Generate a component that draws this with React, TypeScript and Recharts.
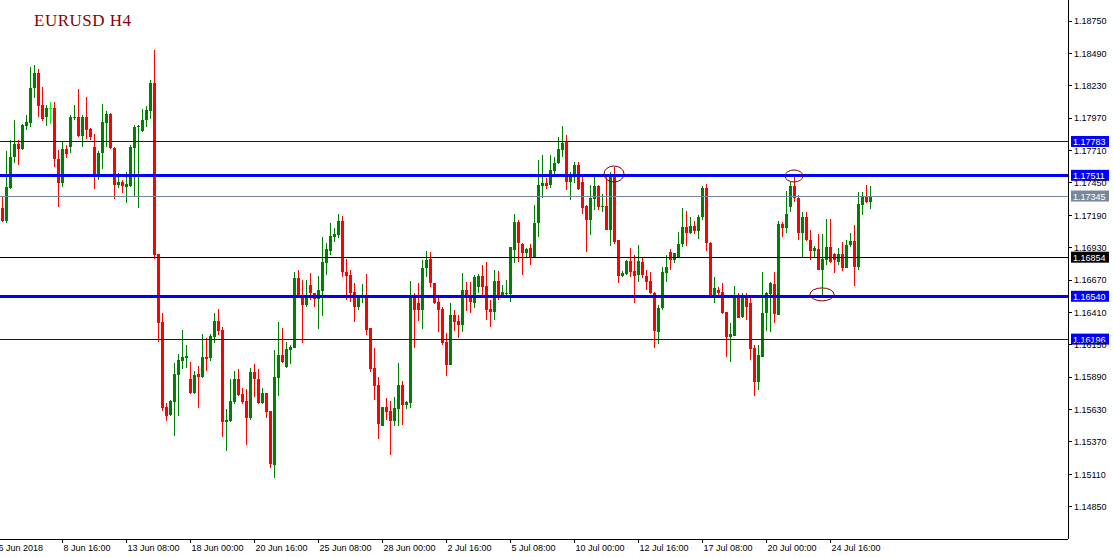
import React from "react";
import { BarChart, Bar, XAxis, YAxis, ReferenceLine, ReferenceDot } from "recharts";

// EURUSD H4 bars, 6 Jun 2018 04:00 onwards
const OPEN = [
  1.17249, 1.17144, 1.17409, 1.17658, 1.17763, 1.17723, 1.17907, 1.17931, 1.18212, 1.18333,
  1.18076, 1.17979, 1.18052, 1.18052, 1.17642, 1.1745, 1.17723, 1.17739, 1.17971, 1.17979,
  1.17827, 1.17979, 1.17883, 1.17739, 1.17514, 1.1769, 1.17931, 1.18004, 1.17731, 1.17433,
  1.17458, 1.17417, 1.17425, 1.17731, 1.17903, 1.17867, 1.17955, 1.18028, 1.18253, 1.16879,
  1.16333, 1.15651, 1.15587, 1.15691, 1.15908, 1.1602, 1.16044, 1.15876, 1.15763, 1.15916,
  1.15892, 1.16052, 1.16044, 1.16213, 1.16341, 1.16269, 1.1553, 1.15538, 1.15691, 1.15876,
  1.15755, 1.15699, 1.15563, 1.15932, 1.15876, 1.15683, 1.15763, 1.15619, 1.15185, 1.15884,
  1.16068, 1.15972, 1.16109, 1.16125, 1.16687, 1.1655, 1.1647, 1.1663, 1.16566, 1.16518,
  1.16582, 1.16807, 1.16903, 1.17016, 1.17032, 1.17144, 1.16735, 1.16711, 1.16574, 1.16454,
  1.16526, 1.16542, 1.16285, 1.15964, 1.15828, 1.15498, 1.15651, 1.15619, 1.15538, 1.15635,
  1.15828, 1.15667, 1.15683, 1.16534, 1.16486, 1.16426, 1.16767, 1.16839, 1.16646, 1.16494,
  1.16438, 1.16173, 1.15988, 1.1639, 1.16341, 1.16309, 1.1659, 1.16526, 1.16486, 1.16614,
  1.16703, 1.16622, 1.16438, 1.16414, 1.16663, 1.1655, 1.16558, 1.16558, 1.16911, 1.17136,
  1.1696, 1.16887, 1.16927, 1.16855, 1.17128, 1.17425, 1.1745, 1.17433, 1.17546, 1.1761,
  1.17715, 1.17779, 1.17458, 1.17498, 1.17594, 1.17458, 1.17265, 1.17152, 1.17321, 1.17425,
  1.17261, 1.17265, 1.17072, 1.17522, 1.16992, 1.16703, 1.16719, 1.16823, 1.16743, 1.16711,
  1.16815, 1.16703, 1.16663, 1.16566, 1.16253, 1.16446, 1.16727, 1.16895, 1.16831, 1.16855,
  1.1696, 1.17096, 1.17048, 1.17104, 1.17064, 1.17176, 1.17409, 1.16968, 1.16534, 1.1659,
  1.16574, 1.16414, 1.16213, 1.16221, 1.16526, 1.16373, 1.16534, 1.16486, 1.16125, 1.15852,
  1.16052, 1.16406, 1.16558, 1.16638, 1.1639, 1.1712, 1.17088, 1.17257, 1.17425, 1.17329,
  1.17048, 1.17176, 1.16992, 1.16903, 1.16919, 1.16751, 1.16831, 1.16936, 1.16879, 1.16815,
  1.16879, 1.16767, 1.16952, 1.16984, 1.16775, 1.17273, 1.17345, 1.17297,
];
const HIGH = [
  1.17345, 1.17706, 1.17795, 1.17955, 1.17795, 1.17923, 1.17996, 1.18381, 1.18397, 1.18365,
  1.1822, 1.18076, 1.181, 1.181, 1.17715, 1.17779, 1.17755, 1.17996, 1.18076, 1.18204,
  1.17996, 1.1814, 1.17891, 1.17843, 1.17706, 1.18084, 1.18028, 1.18012, 1.17735, 1.1753,
  1.17474, 1.17538, 1.17755, 1.17915, 1.17915, 1.18044, 1.18068, 1.18277, 1.18518, 1.16883,
  1.16406, 1.15683, 1.15707, 1.16004, 1.16076, 1.16269, 1.16149, 1.16012, 1.1594, 1.1598,
  1.16237, 1.16205, 1.16237, 1.16406, 1.16438, 1.16293, 1.15635, 1.15876, 1.1594, 1.15956,
  1.15803, 1.15795, 1.15964, 1.15996, 1.15956, 1.15803, 1.15766, 1.15622, 1.16109, 1.16333,
  1.16285, 1.16173, 1.16149, 1.16735, 1.16751, 1.16671, 1.16671, 1.16727, 1.1657, 1.16703,
  1.17016, 1.16968, 1.17128, 1.17088, 1.17201, 1.17185, 1.16839, 1.16751, 1.16646, 1.1655,
  1.16638, 1.16719, 1.16288, 1.16125, 1.15892, 1.15654, 1.15723, 1.15699, 1.15731, 1.16004,
  1.1586, 1.15699, 1.16663, 1.16566, 1.16646, 1.16831, 1.16903, 1.16895, 1.1665, 1.16534,
  1.16454, 1.16245, 1.16486, 1.16426, 1.16393, 1.16727, 1.16655, 1.16655, 1.16711, 1.16719,
  1.16791, 1.16815, 1.1651, 1.16751, 1.16743, 1.1663, 1.16671, 1.16939, 1.17201, 1.17152,
  1.1697, 1.16927, 1.1696, 1.17273, 1.17634, 1.17674, 1.1749, 1.17674, 1.17658, 1.17819,
  1.17907, 1.17835, 1.17538, 1.17618, 1.17618, 1.17514, 1.17273, 1.17433, 1.17498, 1.17433,
  1.17361, 1.17498, 1.17538, 1.17578, 1.16995, 1.16743, 1.16831, 1.16927, 1.16871, 1.16952,
  1.16855, 1.16751, 1.16735, 1.16574, 1.1647, 1.16775, 1.16871, 1.16919, 1.1689, 1.17056,
  1.17249, 1.17225, 1.17176, 1.17144, 1.17193, 1.17425, 1.17441, 1.16976, 1.16695, 1.16614,
  1.16646, 1.16417, 1.16325, 1.16622, 1.16566, 1.16566, 1.16566, 1.16526, 1.16149, 1.16149,
  1.16735, 1.16574, 1.16655, 1.16735, 1.17144, 1.17136, 1.17385, 1.17458, 1.17514, 1.17353,
  1.17217, 1.17217, 1.17072, 1.16944, 1.1704, 1.1704, 1.1716, 1.1716, 1.16887, 1.16927,
  1.16976, 1.16992, 1.17048, 1.17112, 1.17377, 1.17377, 1.17433, 1.17425,
];
const LOW = [
  1.17136, 1.17128, 1.17401, 1.1761, 1.17594, 1.17715, 1.17875, 1.17899, 1.18132, 1.17979,
  1.17947, 1.17907, 1.17923, 1.17578, 1.17257, 1.17417, 1.1765, 1.1769, 1.17955, 1.1782,
  1.17739, 1.17803, 1.17795, 1.17401, 1.17474, 1.17562, 1.17739, 1.17723, 1.17321, 1.17409,
  1.17369, 1.17289, 1.17417, 1.17337, 1.17249, 1.1786, 1.17899, 1.17963, 1.16839, 1.16173,
  1.15619, 1.15538, 1.1558, 1.15418, 1.15579, 1.15956, 1.15964, 1.15756, 1.15755, 1.15643,
  1.15884, 1.1594, 1.1602, 1.16165, 1.16229, 1.1541, 1.15298, 1.15529, 1.15675, 1.1574,
  1.15675, 1.15346, 1.15546, 1.15731, 1.15678, 1.15678, 1.15563, 1.15161, 1.15081, 1.15739,
  1.16008, 1.15968, 1.15996, 1.16122, 1.1653, 1.16165, 1.16454, 1.1651, 1.16454, 1.16277,
  1.16382, 1.16711, 1.16871, 1.16976, 1.17008, 1.16695, 1.1651, 1.16494, 1.16333, 1.16426,
  1.16486, 1.16229, 1.15932, 1.15707, 1.15394, 1.15495, 1.15546, 1.15265, 1.15498, 1.15498,
  1.15506, 1.15635, 1.15643, 1.16125, 1.16341, 1.16277, 1.16695, 1.16614, 1.16478, 1.16253,
  1.16149, 1.159, 1.15985, 1.16261, 1.16205, 1.16253, 1.16419, 1.16406, 1.16446, 1.16566,
  1.16534, 1.16349, 1.16293, 1.16349, 1.1651, 1.16526, 1.16534, 1.16494, 1.16807, 1.16815,
  1.16711, 1.16855, 1.16791, 1.16852, 1.17016, 1.17329, 1.17401, 1.17409, 1.17498, 1.17602,
  1.17658, 1.17393, 1.17313, 1.1745, 1.17393, 1.17201, 1.16895, 1.17032, 1.17233, 1.17233,
  1.17217, 1.17069, 1.16944, 1.1696, 1.16646, 1.16695, 1.16711, 1.16695, 1.16486, 1.16655,
  1.16687, 1.1659, 1.16558, 1.16125, 1.16157, 1.16426, 1.16655, 1.16751, 1.16807, 1.16852,
  1.16936, 1.16944, 1.1704, 1.1704, 1.17, 1.17152, 1.16903, 1.1653, 1.16486, 1.16526,
  1.16398, 1.16052, 1.16012, 1.16218, 1.16362, 1.16365, 1.16349, 1.16028, 1.15739, 1.15787,
  1.16049, 1.16261, 1.16253, 1.16325, 1.16387, 1.17016, 1.17048, 1.17217, 1.17297, 1.16992,
  1.16855, 1.16984, 1.16831, 1.16847, 1.16748, 1.1655, 1.16791, 1.16807, 1.16727, 1.16791,
  1.16743, 1.16764, 1.16936, 1.16622, 1.16751, 1.17193, 1.17289, 1.17241,
];
const CLOSE = [
  1.17144, 1.17417, 1.17658, 1.17763, 1.17723, 1.17915, 1.17939, 1.18212, 1.18333, 1.18068,
  1.17963, 1.18052, 1.18052, 1.17642, 1.1745, 1.17723, 1.17682, 1.17979, 1.17979, 1.17827,
  1.17979, 1.17875, 1.17819, 1.17514, 1.1769, 1.17939, 1.18004, 1.17731, 1.17433, 1.17458,
  1.17425, 1.17441, 1.17739, 1.17899, 1.17907, 1.17955, 1.18036, 1.18253, 1.16871, 1.16325,
  1.15643, 1.15579, 1.15699, 1.15916, 1.16028, 1.16052, 1.1606, 1.15763, 1.15908, 1.15892,
  1.16052, 1.16036, 1.16221, 1.16341, 1.16261, 1.1553, 1.15546, 1.15699, 1.15876, 1.15747,
  1.15691, 1.15563, 1.15932, 1.15876, 1.15683, 1.15763, 1.15611, 1.15193, 1.15892, 1.16068,
  1.16012, 1.16117, 1.16133, 1.16687, 1.16534, 1.1647, 1.16534, 1.16566, 1.16518, 1.1659,
  1.16815, 1.16919, 1.17024, 1.1704, 1.17144, 1.16735, 1.16703, 1.16566, 1.16454, 1.16534,
  1.16542, 1.16269, 1.15956, 1.1582, 1.15514, 1.15651, 1.15611, 1.15538, 1.15643, 1.15828,
  1.15667, 1.15691, 1.16534, 1.16426, 1.16426, 1.16767, 1.16831, 1.16646, 1.16486, 1.16426,
  1.16165, 1.15988, 1.1639, 1.16333, 1.16309, 1.1659, 1.16526, 1.16494, 1.16695, 1.16703,
  1.16614, 1.16426, 1.16414, 1.16663, 1.1655, 1.16574, 1.16566, 1.16936, 1.17136, 1.16968,
  1.16887, 1.16919, 1.16855, 1.17128, 1.17433, 1.1745, 1.17425, 1.17554, 1.1761, 1.17723,
  1.17771, 1.17458, 1.17498, 1.17594, 1.17401, 1.17249, 1.17152, 1.17329, 1.17425, 1.17257,
  1.17265, 1.17072, 1.17522, 1.16976, 1.16703, 1.16727, 1.16823, 1.16735, 1.16703, 1.16823,
  1.16711, 1.16655, 1.16566, 1.16261, 1.16446, 1.16735, 1.16775, 1.16831, 1.16887, 1.1696,
  1.17096, 1.17048, 1.17104, 1.17064, 1.17176, 1.17409, 1.16968, 1.16534, 1.16606, 1.16566,
  1.16406, 1.16213, 1.16237, 1.16526, 1.16365, 1.16534, 1.16454, 1.16117, 1.15852, 1.16068,
  1.16406, 1.16566, 1.16646, 1.16398, 1.1712, 1.17088, 1.17201, 1.17425, 1.17329, 1.17048,
  1.17176, 1.16992, 1.16903, 1.16927, 1.16751, 1.16839, 1.16936, 1.16815, 1.16831, 1.16879,
  1.16767, 1.16952, 1.16984, 1.16775, 1.17281, 1.17345, 1.17297, 1.17345,
];

// bar index of each time label
const X_LABEL_BARS = [0, 15, 31, 47, 63, 79, 95, 111, 127, 143, 159, 175, 191, 207];
const X_LABELS = [
  "6 Jun 2018", "8 Jun 16:00", "13 Jun 08:00", "18 Jun 00:00", "20 Jun 16:00", "25 Jun 08:00",
  "28 Jun 00:00", "2 Jul 16:00", "5 Jul 08:00", "10 Jul 00:00", "12 Jul 16:00", "17 Jul 08:00",
  "20 Jul 00:00", "24 Jul 16:00",
];

const Y_TICKS = [
  1.1875, 1.1849, 1.1823, 1.1797, 1.1771, 1.1745, 1.1719, 1.1693,
  1.1667, 1.1641, 1.1615, 1.1589, 1.1563, 1.1537, 1.1511, 1.1485,
];
const Y_MIN = 1.14591;
const Y_MAX = 1.18919;

// horizontal levels drawn on the chart
const LEVELS = [1.17783, 1.17511, 1.17345, 1.16854, 1.1654, 1.16196];
const LEVEL_COLORS = ["#0000ff", "#0000ff", "#778899", "#000000", "#0000ff", "#0000ff"];
const LEVEL_WIDTHS = [1, 3, 1, 1, 3, 1];

// circled touches
const MARK_BARS = [153, 198, 205];
const MARK_PRICES = [1.17522, 1.17506, 1.16555];
const MARK_RADII = [
  [10, 8],
  [9, 6],
  [12, 6.5],
];

const SLOTS = 267;
const BULL = "#008000";
const BEAR = "#ff0000";
const DOJI = "#00ff00";
const FONT = "'Liberation Sans', Arial, sans-serif";

const data = Array.from({ length: SLOTS }, (_, i) =>
  i < OPEN.length
    ? { i, open: OPEN[i], high: HIGH[i], low: LOW[i], close: CLOSE[i] }
    : { i }
);

const Candle = (props: any) => {
  const { x, y, width, height, payload } = props;
  if (!payload || payload.open == null || x == null) return null;
  const { open, high, low, close } = payload;
  const top = Math.min(y, y + height);
  const h = Math.abs(height);
  const k = high > low ? h / (high - low) : 0;
  const py = (p: number) => top + (high - p) * k;
  const left = Math.round(x + width / 2 - 1.5);
  const color = close > open ? BULL : close < open ? BEAR : DOJI;
  const bTop = py(Math.max(open, close));
  const bBot = py(Math.min(open, close));
  return (
    <g shapeRendering="crispEdges">
      <line x1={left + 1.5} x2={left + 1.5} y1={top} y2={top + h} stroke={color} strokeWidth={1} />
      <rect x={left} y={bTop} width={3} height={Math.max(1, bBot - bTop)} fill={color} />
    </g>
  );
};

const XTick = (props: any) => {
  const { x, y, payload } = props;
  const idx = X_LABEL_BARS.indexOf(payload.value);
  if (idx < 0) return <g />;
  const tx = Math.round(x) + 0.5;
  return (
    <g>
      {idx > 0 && <line x1={tx} x2={tx} y1={y} y2={y + 4} stroke="#000" strokeWidth={1} />}
      <text x={idx > 0 ? tx + 1 : tx - 4} y={y + 12} fontSize={9} fontFamily={FONT} fill="#000">
        {X_LABELS[idx]}
      </text>
    </g>
  );
};

const priceTag = (price: number, color: string) => (props: any) => {
  const vb = props.viewBox || {};
  const x0 = (vb.x ?? 0) + (vb.width ?? 0) + 3;
  const y0 = vb.y ?? 0;
  return (
    <g>
      <rect x={x0} y={y0 - 5.5} width={38} height={11} fill={color} />
      <text x={x0 + 2} y={y0 + 3.5} fontSize={9} fontFamily={FONT} fill="#fff">
        {price.toFixed(5)}
      </text>
    </g>
  );
};

export default function App() {
  return (
    <div style={{ position: "fixed", left: 0, top: 0, width: 1113, height: 557, background: "#fff" }}>
      <BarChart
        width={1113}
        height={557}
        data={data}
        margin={{ top: 0, right: 0, bottom: 0, left: 0 }}
        barCategoryGap={0}
        barGap={0}
      >
        <XAxis
          dataKey="i"
          type="category"
          interval={0}
          height={18}
          tickSize={0}
          tickMargin={0}
          tickLine={false}
          axisLine={{ stroke: "#000", shapeRendering: "crispEdges" }}
          tick={<XTick />}
        />
        <YAxis
          orientation="right"
          type="number"
          domain={[Y_MIN, Y_MAX]}
          allowDataOverflow
          ticks={Y_TICKS}
          interval={0}
          width={45}
          tickSize={4}
          tickMargin={2}
          axisLine={{ stroke: "#000", shapeRendering: "crispEdges" }}
          tickLine={{ stroke: "#000", shapeRendering: "crispEdges" }}
          tick={{ fontSize: 9, fill: "#000", fontFamily: FONT }}
          tickFormatter={(v: number) => v.toFixed(5)}
        />
        {LEVELS.map((p, k) => (
          <ReferenceLine
            key={p}
            y={p}
            stroke={LEVEL_COLORS[k]}
            strokeWidth={LEVEL_WIDTHS[k]}
            shapeRendering="crispEdges"
            label={priceTag(p, LEVEL_COLORS[k])}
          />
        ))}
        <Bar
          dataKey={(d: any) => (d.open == null ? null : [d.low, d.high])}
          barSize={3}
          shape={<Candle />}
          isAnimationActive={false}
        />
        {MARK_BARS.map((b, k) => (
          <ReferenceDot
            key={b}
            x={b}
            y={MARK_PRICES[k]}
            shape={(p: any) => (
              <ellipse
                cx={p.cx}
                cy={p.cy}
                rx={MARK_RADII[k][0]}
                ry={MARK_RADII[k][1]}
                fill="none"
                stroke="#800000"
                strokeWidth={1}
              />
            )}
          />
        ))}
      </BarChart>
      <div
        style={{
          position: "absolute",
          left: 34,
          top: 12,
          fontFamily: "'Liberation Serif', 'Times New Roman', serif",
          fontSize: 17,
          letterSpacing: 0.5,
          lineHeight: "17px",
          color: "#8b0000",
        }}
      >
        EURUSD H4
      </div>
    </div>
  );
}
